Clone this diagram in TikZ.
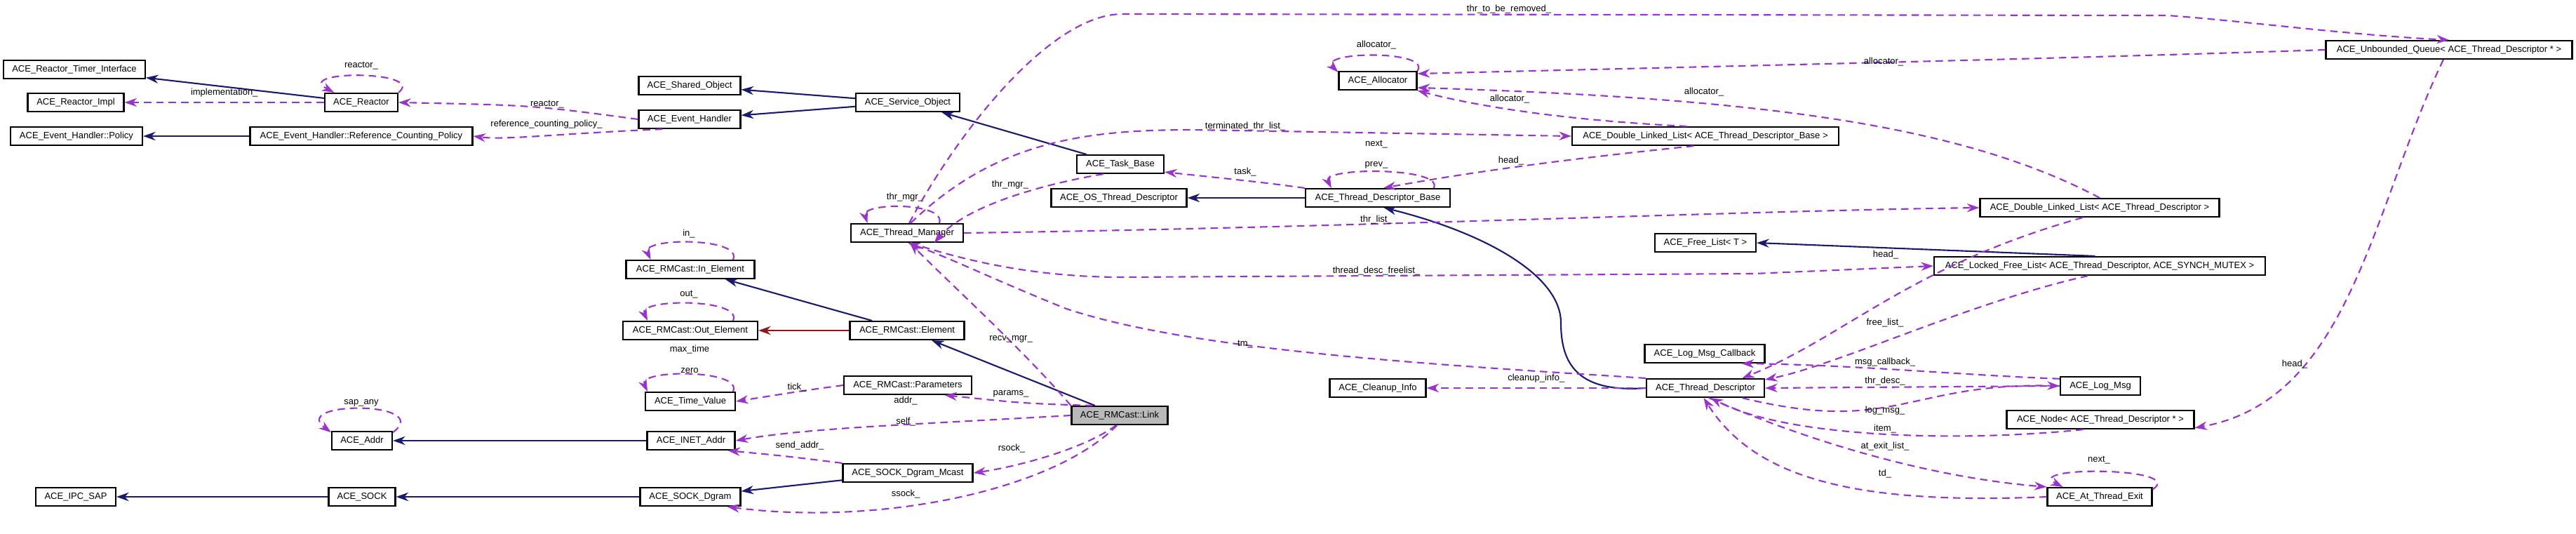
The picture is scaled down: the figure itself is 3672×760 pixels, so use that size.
\documentclass[tikz,border=0pt]{standalone}
\usepackage{fontspec}
\setmainfont{Liberation Sans}
\usetikzlibrary{arrows.meta}
\definecolor{inhcol}{HTML}{191970}
\definecolor{usecol}{HTML}{9A32CD}
\definecolor{privcol}{HTML}{8B1A1A}
\tikzset{
  cls/.style={draw, semithick, fill=white, minimum height=0.26cm, inner sep=1pt, font=\fontsize{3.7}{4.4}\selectfont},
  wd/.style={minimum width=#1*0.01cm},
  inh/.style={draw=inhcol, semithick, -{Stealth[length=5pt,width=3.5pt]}},
  priv/.style={draw=privcol, semithick, -{Stealth[length=5pt,width=3.5pt]}},
  use/.style={draw=usecol, semithick, dashed, dash pattern=on 3pt off 2pt, -{Stealth[length=5pt,width=3.5pt]}},
  lbl/.style={font=\fontsize{3.7}{4.4}\selectfont, inner sep=0pt, align=center}
}
\begin{document}
\begin{tikzpicture}[x=0.01cm,y=-0.01cm]
\useasboundingbox (0,0) rectangle (3672,760);
% classes
\node[cls, wd=202] (rti) at (106,99) {ACE\_Reactor\_Timer\_Interface};
\node[cls, wd=137] (rimpl) at (108,146) {ACE\_Reactor\_Impl};
\node[cls, wd=188] (pol) at (109,194) {ACE\_Event\_Handler::Policy};
\node[cls, wd=317] (rcp) at (515,194) {ACE\_Event\_Handler::Reference\_Counting\_Policy};
\node[cls, wd=104] (reac) at (515,146) {ACE\_Reactor};
\node[cls, wd=145] (shobj) at (983,122) {ACE\_Shared\_Object};
\node[cls, wd=145] (evh) at (983,170) {ACE\_Event\_Handler};
\node[cls, wd=148] (svc) at (1294,146) {ACE\_Service\_Object};
\node[cls, wd=124] (task) at (1597,234) {ACE\_Task\_Base};
\node[cls, wd=193] (ostd) at (1595,282) {ACE\_OS\_Thread\_Descriptor};
\node[cls, wd=206] (tdb) at (1964,282) {ACE\_Thread\_Descriptor\_Base};
\node[cls, wd=111] (alloc) at (1964,115) {ACE\_Allocator};
\node[cls, wd=380] (dllb) at (2431,194) {ACE\_Double\_Linked\_List< ACE\_Thread\_Descriptor\_Base >};
\node[cls, wd=160] (tm) at (1293,332) {ACE\_Thread\_Manager};
\node[cls, wd=351] (uq) at (3491,71) {ACE\_Unbounded\_Queue< ACE\_Thread\_Descriptor * >};
\node[cls, wd=341] (dlld) at (2993,296) {ACE\_Double\_Linked\_List< ACE\_Thread\_Descriptor >};
\node[cls, wd=144] (fl) at (2431,346) {ACE\_Free\_List< T >};
\node[cls, wd=472] (lfl) at (2993,379) {ACE\_Locked\_Free\_List< ACE\_Thread\_Descriptor, ACE\_SYNCH\_MUTEX >};
\node[cls, wd=171] (lmc) at (2430,504) {ACE\_Log\_Msg\_Callback};
\node[cls, wd=137] (ci) at (1964,553) {ACE\_Cleanup\_Info};
\node[cls, wd=168] (td) at (2431,553) {ACE\_Thread\_Descriptor};
\node[cls, wd=114] (lm) at (2994,550) {ACE\_Log\_Msg};
\node[cls, wd=267] (anode) at (2994,598) {ACE\_Node< ACE\_Thread\_Descriptor * >};
\node[cls, wd=149] (ate) at (2993,708) {ACE\_At\_Thread\_Exit};
\node[cls, wd=183] (inel) at (984,384) {ACE\_RMCast::In\_Element};
\node[cls, wd=192] (outel) at (984,471) {ACE\_RMCast::Out\_Element};
\node[cls, wd=163] (el) at (1293,471) {ACE\_RMCast::Element};
\node[cls, wd=128] (tv) at (984,572) {ACE\_Time\_Value};
\node[cls, wd=182] (par) at (1294,549) {ACE\_RMCast::Parameters};
\node[cls, wd=86] (addr) at (516,628) {ACE\_Addr};
\node[cls, wd=125] (inet) at (985,628) {ACE\_INET\_Addr};
\node[cls, wd=185] (mcast) at (1294,674) {ACE\_SOCK\_Dgram\_Mcast};
\node[cls, wd=114] (ipc) at (108,708) {ACE\_IPC\_SAP};
\node[cls, wd=95] (sock) at (516,708) {ACE\_SOCK};
\node[cls, wd=143] (dgram) at (984,708) {ACE\_SOCK\_Dgram};
\node[cls, wd=137, fill=gray!55] (link) at (1596,592) {ACE\_RMCast::Link};
% inheritance
\draw[inh] (reac) -- (rti);
\draw[inh] (rcp) -- (pol);
\draw[inh] (svc) -- (shobj);
\draw[inh] (svc) -- (evh);
\draw[inh] (task) -- (svc);
\draw[inh] (tdb) -- (ostd);
\draw[inh] (td.west) .. controls (2250,560) and (2225,520) .. (2225,460) .. controls (2225,390) and (2110,330) .. (tdb.-58);
\draw[inh] (lfl.115) -- (fl.east);
\draw[inh] (el) -- (inel);
\draw[inh] (link) -- (el);
\draw[priv] (el) -- (outel);
\draw[inh] (inet) -- (addr);
\draw[inh] (sock) -- (ipc);
\draw[inh] (dgram) -- (sock);
\draw[inh] (mcast) -- (dgram);
% usage
\draw[use] (reac) -- node[lbl, above=2pt]{implementation\_} (rimpl);
\draw[use] (reac.north east) .. controls +(40,-32) and +(-60,-32) .. (reac.160);
\node[lbl] (l1) at (515,94) {reactor\_};
\draw[use] (evh.west) .. controls (760,150) .. (reac.east);
\node[lbl] (l2) at (780,149) {reactor\_};
\draw[use] (evh.200) .. controls (800,190) and (720,200) .. (rcp.east);
\node[lbl] (l3) at (779,177) {reference\_counting\_policy\_};
\draw[use] (inel.13) .. controls +(15,-32) and +(-15,-32) .. (inel.166);
\node[lbl] (l4) at (982,333) {in\_};
\draw[use] (outel.13) .. controls +(15,-32) and +(-15,-32) .. (outel.167);
\node[lbl] (l5) at (982,420) {out\_};
\draw[use] (tv.13) .. controls +(15,-32) and +(-15,-32) .. (tv.167);
\node[lbl] (l6) at (983,512) {max\_time\\[4pt]zero};
\draw[use] (addr.15) .. controls +(60,-45) and +(-60,-45) .. (addr.165);
\node[lbl] (l7) at (515,574) {sap\_any};
\draw[use] (par.west) .. controls (1150,556) .. (tv.east);
\node[lbl] (l8) at (1136,552) {tick\_};
\draw[use] (link.160) .. controls (1460,575) .. (par.-15);
\node[lbl] (l9) at (1441,561) {params\_};
\draw[use] (link.west) .. controls (1300,605) and (1150,610) .. (inet.east);
\node[lbl] (l10) at (1291,586) {addr\_\\[4pt]self\_};
\draw[use] (mcast.north west) .. controls (1120,650) .. (inet.-15);
\node[lbl] (l11) at (1140,635) {send\_addr\_};
\draw[use] (link.-110) .. controls (1545,640) and (1450,665) .. (mcast.east);
\node[lbl] (l12) at (1442,639) {rsock\_};
\draw[use] (link.-105) .. controls (1500,700) and (1250,750) .. (dgram.-15);
\node[lbl] (l13) at (1291,704) {ssock\_};
\draw[use] (link.north west) .. controls (1460,500) and (1350,400) .. (tm.-75);
\node[lbl] (l14) at (1441,483) {recv\_mgr\_};
\draw[use] (tm.17) .. controls +(10,-30) and +(-10,-30) .. (tm.166);
\node[lbl] (l15) at (1290,281) {thr\_mgr\_};
\draw[use] (task.-150) .. controls (1500,260) and (1380,290) .. (tm.-20);
\node[lbl] (l16) at (1440,263) {thr\_mgr\_};
\draw[use] (tm.78) .. controls (1370,180) and (1500,20) .. (1600,20) -- (3090,22) .. controls (3200,30) and (3350,50) .. (uq.north);
\node[lbl] (l17) at (2151,13) {thr\_to\_be\_removed\_};
\draw[use] (alloc.north east) .. controls +(20,-30) and +(-30,-30) .. (alloc.168);
\node[lbl] (l18) at (1962,64) {allocator\_};
\draw[use] (uq.west) .. controls (2900,85) and (2300,98) .. (alloc.10);
\node[lbl] (l19) at (2685,88) {allocator\_};
\draw[use] (dlld.north) .. controls (2800,180) and (2520,140) .. (alloc.-10);
\node[lbl] (l20) at (2429,131) {allocator\_};
\draw[use] (dllb.152) .. controls (2200,170) and (2080,145) .. (alloc.south east);
\node[lbl] (l21) at (2152,141) {allocator\_};
\draw[use] (tm.70) .. controls (1420,200) and (1550,185) .. (1700,185) -- (dllb.west);
\node[lbl] (l22) at (1775,180) {terminated\_thr\_list\_};
\draw[use] (tdb.north west) .. controls (1800,260) .. (task.-10);
\node[lbl] (l23) at (1775,245) {task\_};
\draw[use] (dllb.-140) .. controls (2200,230) and (2070,250) .. (tdb.60);
\node[lbl] (l24) at (2154,229) {head\_};
\draw[use] (tdb.10) .. controls +(15,-30) and +(-15,-30) .. (tdb.168);
\node[lbl] (l25) at (1962,220) {next\_\\[4pt]prev\_};
\draw[use] (tm.east) .. controls (1900,325) and (2500,300) .. (dlld.west);
\node[lbl] (l26) at (1962,313) {thr\_list\_};
\draw[use] (tm.-70) .. controls (1400,380) and (1500,395) .. (1600,395) -- (2500,390) -- (lfl.west);
\node[lbl] (l27) at (1962,386) {thread\_desc\_freelist\_};
\draw[use] (td.north west) .. controls (2050,520) and (1700,500) .. (1520,440) .. controls (1420,400) and (1360,370) .. (tm.-85);
\node[lbl] (l28) at (1775,491) {tm\_};
\draw[use] (dlld.-150) .. controls (2720,380) and (2630,480) .. (td.15);
\node[lbl] (l29) at (2688,363) {head\_};
\draw[use] (lfl.-140) .. controls (2810,430) and (2620,520) .. (td.8);
\node[lbl] (l30) at (2687,460) {free\_list\_};
\draw[use] (td) -- node[lbl, above=2pt]{cleanup\_info\_} (ci);
\draw[use] (lm.170) .. controls (2800,535) and (2650,520) .. (lmc.-15);
\node[lbl] (l31) at (2687,516) {msg\_callback\_};
\draw[use] (lm.west) -- (td.east);
\node[lbl] (l32) at (2687,543) {thr\_desc\_};
\draw[use] (td.-15) .. controls (2700,620) and (2720,545) .. (lm.west);
\node[lbl] (l33) at (2687,585) {log\_msg\_};
\draw[use] (anode.-150) .. controls (2800,630) and (2550,625) .. (td.-62);
\node[lbl] (l34) at (2687,611) {item\_};
\draw[use] (td.-70) .. controls (2580,630) and (2750,680) .. (ate.north west);
\node[lbl] (l35) at (2687,636) {at\_exit\_list\_};
\draw[use] (ate.west) .. controls (2640,720) and (2500,680) .. (td.-100);
\node[lbl] (l36) at (2687,675) {td\_};
\draw[use] (ate.8) .. controls +(50,-32) and +(-60,-30) .. (ate.165);
\node[lbl] (l37) at (2992,656) {next\_};
\draw[use] (uq.-120) .. controls (3380,300) and (3350,570) .. (anode.-5);
\node[lbl] (l38) at (3271,519) {head\_};
\end{tikzpicture}
\end{document}
